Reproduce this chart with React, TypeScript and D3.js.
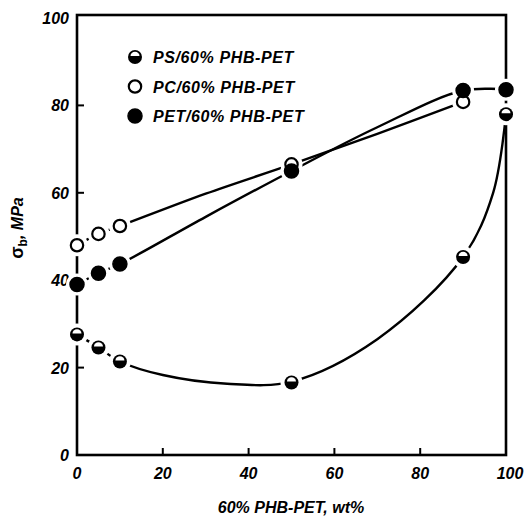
import React from "react";
import * as d3 from "d3";

// ---- data ----
const xTicks = [0, 20, 40, 60, 80, 100];
const yTicks = [0, 20, 40, 60, 80, 100];

const psX = [0, 5, 10, 50, 90, 100];
const psY = [27.6, 24.6, 21.4, 16.6, 45.3, 78];
const pcX = [0, 5, 10, 50, 90];
const pcY = [48, 50.6, 52.4, 66.5, 80.8];
const petX = [0, 5, 10, 50, 90, 100];
const petY = [39, 41.6, 43.7, 65, 83.4, 83.6];

// hand-drawn trend curves
const psFitX = [0, 5, 10, 20, 35, 50, 70, 90, 97, 100];
const psFitY = [27.6, 24.6, 21.4, 18.3, 16.3, 16.8, 26.5, 45.3, 60, 78];
const pcFitX = [0, 5, 10, 30, 50, 70, 90];
const pcFitY = [48, 50.6, 52.4, 59.8, 66.5, 73.5, 80.8];
const petFitX = [0, 5, 10, 30, 50, 70, 90, 100];
const petFitY = [39, 41.6, 43.7, 54.5, 65, 75, 83.4, 83.6];

const legendLabels = ["PS/60% PHB-PET", "PC/60% PHB-PET", "PET/60% PHB-PET"];
const xTitle = "60% PHB-PET, wt%";
const yTitleMain = "σ";
const yTitleSub = "b";
const yTitleRest = ", MPa";

const W = 527;
const H = 531;
const x = d3.scaleLinear().domain([0, 100]).range([77, 506]);
const y = d3.scaleLinear().domain([0, 100]).range([455, 18]);
const R = 7;
const FONT = "'Liberation Sans', Arial, sans-serif";

type Kind = "ps" | "pc" | "pet";

function Marker({ cx, cy, kind }: { cx: number; cy: number; kind: Kind }) {
  if (kind === "pet") {
    return <circle cx={cx} cy={cy} r={R} fill="#000" stroke="#000" strokeWidth={1.5} />;
  }
  if (kind === "pc") {
    return <circle cx={cx} cy={cy} r={R - 0.8} fill="#fff" stroke="#000" strokeWidth={2.2} />;
  }
  // half-filled: lower part black, white cap on top
  const a = R;
  const yc = cy - 1;
  return (
    <g>
      <circle cx={cx} cy={cy} r={R} fill="#000" />
      <path
        d={`M${cx - a + 2.5},${yc} A${a - 2.5},${a - 2.8} 0 0 1 ${cx + a - 2.5},${yc} Z`}
        fill="#fff"
      />
    </g>
  );
}

function Halo({ cx, cy }: { cx: number; cy: number }) {
  return <circle cx={cx} cy={cy} r={R + 4} fill="#fff" />;
}

export default function App() {
  const line = d3
    .line<[number, number]>()
    .x((d) => x(d[0]))
    .y((d) => y(d[1]))
    .curve(d3.curveCatmullRom.alpha(0.5));

  const psFit = psFitX.map((v, i) => [v, psFitY[i]] as [number, number]);
  const pcFit = pcFitX.map((v, i) => [v, pcFitY[i]] as [number, number]);
  const petFit = petFitX.map((v, i) => [v, petFitY[i]] as [number, number]);

  const pts: { cx: number; cy: number; kind: Kind }[] = [];
  psX.forEach((v, i) => pts.push({ cx: x(v), cy: y(psY[i]), kind: "ps" }));
  pcX.forEach((v, i) => pts.push({ cx: x(v), cy: y(pcY[i]), kind: "pc" }));
  petX.forEach((v, i) => pts.push({ cx: x(v), cy: y(petY[i]), kind: "pet" }));

  const x0 = x(0), x1 = x(100), y0 = y(0), y1 = y(100);
  const legendKinds: Kind[] = ["ps", "pc", "pet"];

  return (
    <svg
      width={W}
      height={H}
      style={{ position: "absolute", left: 0, top: 0, background: "#fff" }}
      fontFamily={FONT}
    >
      <rect width={W} height={H} fill="#fff" />
      {/* frame */}
      <rect x={x0} y={y1 - 3} width={x1 - x0} height={y0 - y1 + 3} fill="none" stroke="#000" strokeWidth={2.6} />
      {/* ticks */}
      {xTicks.slice(1, -1).map((t) => (
        <line key={"xt" + t} x1={x(t)} x2={x(t)} y1={y0} y2={y0 - 7} stroke="#000" strokeWidth={2} />
      ))}
      {yTicks.slice(1, -1).map((t) => (
        <line key={"yt" + t} x1={x0} x2={x0 + 7} y1={y(t)} y2={y(t)} stroke="#000" strokeWidth={2} />
      ))}
      {/* tick labels */}
      {xTicks.map((t) => (
        <text
          key={"xl" + t}
          x={x(t) + (t === 100 ? 4 : 0)}
          y={y0 + 24}
          textAnchor="middle"
          fontSize={16}
          fontWeight="bold"
          fontStyle="italic"
        >
          {t}
        </text>
      ))}
      {yTicks.map((t) => (
        <text
          key={"yl" + t}
          x={x0 - 8}
          y={y(t) + 6}
          textAnchor="end"
          fontSize={16}
          fontWeight="bold"
          fontStyle="italic"
        >
          {t}
        </text>
      ))}
      {/* axis titles */}
      <text x={291} y={513} textAnchor="middle" fontSize={16} fontWeight="bold" fontStyle="italic">
        {xTitle}
      </text>
      <text
        transform="translate(23,228) rotate(-90)"
        textAnchor="middle"
        fontSize={16}
        fontWeight="bold"
      >
        <tspan fontSize={18}>{yTitleMain}</tspan>
        <tspan fontSize={12} dy={4}>{yTitleSub}</tspan>
        <tspan dy={-4} fontStyle="italic">{yTitleRest}</tspan>
      </text>
      {/* curves */}
      <path d={line(psFit) || ""} fill="none" stroke="#000" strokeWidth={2.4} />
      <path d={line(pcFit) || ""} fill="none" stroke="#000" strokeWidth={2.4} />
      <path d={line(petFit) || ""} fill="none" stroke="#000" strokeWidth={2.4} />
      {/* halos to break lines near markers */}
      {pts.map((p, i) => (
        <Halo key={"h" + i} cx={p.cx} cy={p.cy} />
      ))}
      {pts.map((p, i) => (
        <Marker key={"m" + i} cx={p.cx} cy={p.cy} kind={p.kind} />
      ))}
      {/* legend */}
      {legendLabels.map((lab, i) => (
        <g key={"lg" + i}>
          <Marker cx={135} cy={57 + i * 29.5} kind={legendKinds[i]} />
          <text
            x={153}
            y={63 + i * 29.5}
            fontSize={16}
            fontWeight="bold"
            fontStyle="italic"
            letterSpacing={0.6}
          >
            {lab}
          </text>
        </g>
      ))}
    </svg>
  );
}
